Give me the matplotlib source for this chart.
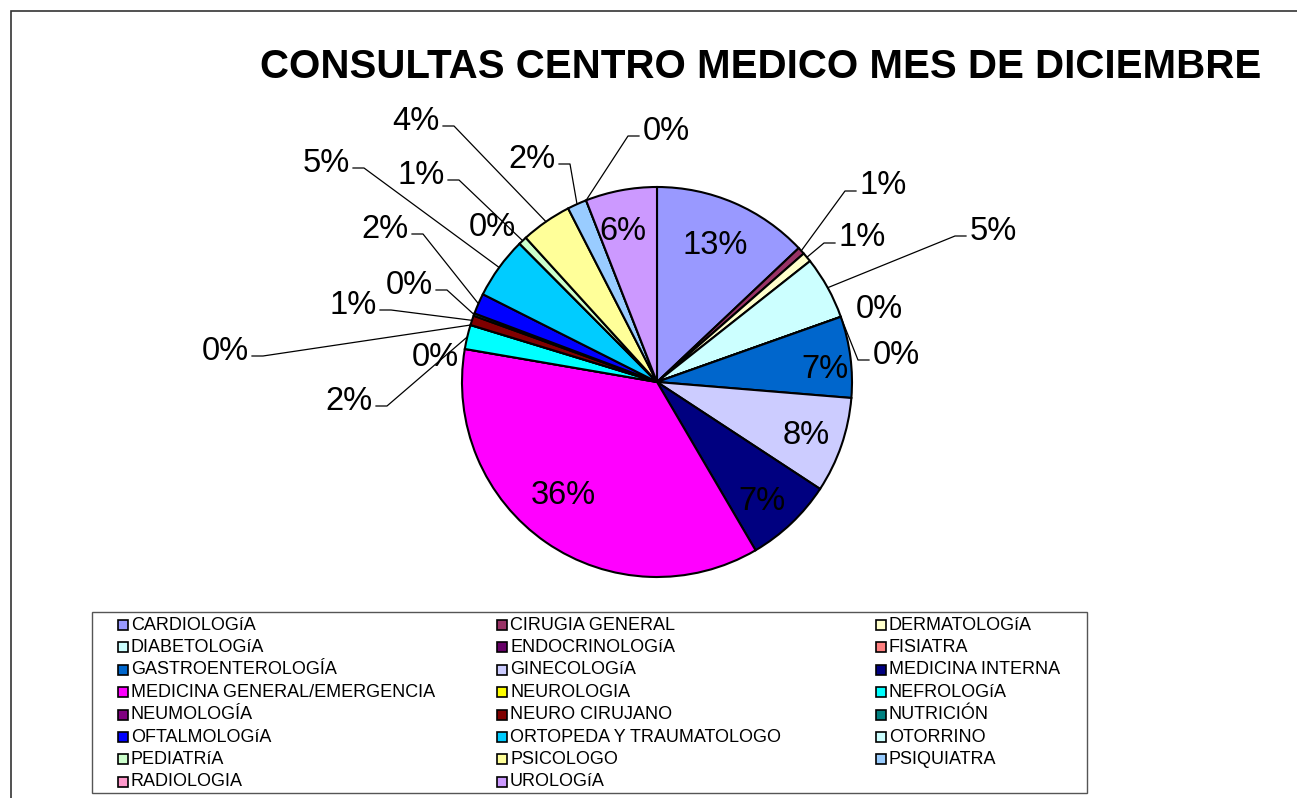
import matplotlib.pyplot as plt
from matplotlib.patches import Rectangle
import numpy as np

plt.rcParams['font.family'] = ['Liberation Sans', 'DejaVu Sans']

# datos
especialidades = ['CARDIOLOGíA', 'CIRUGIA GENERAL', 'DERMATOLOGíA',
                  'DIABETOLOGíA', 'ENDOCRINOLOGíA', 'FISIATRA',
                  'GASTROENTEROLOGÍA', 'GINECOLOGíA', 'MEDICINA INTERNA',
                  'MEDICINA GENERAL/EMERGENCIA', 'NEUROLOGIA', 'NEFROLOGíA',
                  'NEUMOLOGÍA', 'NEURO CIRUJANO', 'NUTRICIÓN',
                  'OFTALMOLOGíA', 'ORTOPEDA Y TRAUMATOLOGO', 'OTORRINO',
                  'PEDIATRíA', 'PSICOLOGO', 'PSIQUIATRA',
                  'RADIOLOGIA', 'UROLOGíA']
consultas = [129, 6, 8, 52, 0, 0, 67, 79, 73, 360, 0, 20,
             0, 8, 2, 17, 51, 0, 7, 42, 16, 0, 59]

colores = ['#9999FF', '#993366', '#FFFFCC', '#CCFFFF', '#660066', '#FF8080',
           '#0066CC', '#CCCCFF', '#000080', '#FF00FF', '#FFFF00', '#00FFFF',
           '#800080', '#800000', '#008080', '#0000FF', '#00CCFF', '#CCFFFF',
           '#CCFFCC', '#FFFF99', '#99CCFF', '#FF99CC', '#CC99FF']

# posicion de etiquetas (pixeles) y lado de la linea guia
pos_etiq = [(715, 243), (883, 183), (862, 235), (993, 228), (879, 307),
            (896, 352), (825, 367), (806, 433), (762, 498), (563, 492),
            (435, 354), (349, 398), (225, 348), (353, 302), (409, 282),
            (385, 226), (326, 160), (492, 224), (421, 172), (416, 118),
            (532, 156), (666, 128), (623, 228)]
guia = [None, 'd', 'd', 'd', None, 'd', None, None, None, None,
        None, 'i', 'i', 'i', 'i', 'i', 'i', None, 'i', 'i', 'i', 'd', None]

W, H = 1297, 798
cx, cy, R = 657, 382, 195

fig = plt.figure(figsize=(12.97, 7.98), dpi=100)
ax = fig.add_axes([0, 0, 1, 1])

wedges, _ = ax.pie(consultas, colors=colores, startangle=90, counterclock=False,
                   center=(cx, H - cy), radius=R,
                   wedgeprops=dict(edgecolor='black', linewidth=1.5))
ax.set_xlim(0, W)
ax.set_ylim(0, H)
ax.axis('off')

total = sum(consultas)
for w, v, (lx, ly), lado in zip(wedges, consultas, pos_etiq, guia):
    ax.text(lx, H - ly - 11.5, f'{100 * v / total:.0f}%', ha='center',
            va='baseline', fontsize=23.5)
    if lado:
        ang = np.deg2rad((w.theta1 + w.theta2) / 2)
        px = cx + R * np.cos(ang)
        py = (H - cy) + R * np.sin(ang)
        ex = lx - 27 if lado == 'd' else lx + 27
        codo = ex - 11 if lado == 'd' else ex + 11
        ey = H - (ly + 8)
        ax.plot([ex, codo, px], [ey, ey, py], color='black', lw=0.9)

# titulo
ax.text(761, H - 78, 'CONSULTAS CENTRO MEDICO MES DE DICIEMBRE',
        ha='center', va='baseline', fontsize=29, fontweight='bold')

# leyenda
cols_x = [118, 497, 876]
for i, (nombre, w) in enumerate(zip(especialidades, wedges)):
    fila, col = divmod(i, 3)
    x = cols_x[col]
    y = 625 + 22.4 * fila
    ax.add_patch(Rectangle((x, H - y - 5), 10, 10, facecolor=w.get_facecolor(),
                           edgecolor='black', lw=1.2))
    ax.text(x + 13, H - y, nombre, va='center', fontsize=13)
ax.add_patch(Rectangle((92, H - 793), 995, 181, fill=False,
                       edgecolor='#555555', lw=1))

# marco del grafico
ax.add_patch(Rectangle((10.5, -10), 1400, H - 0.5, fill=False,
                       edgecolor='#333333', lw=1.2))

fig.savefig('out.png', dpi=100)
